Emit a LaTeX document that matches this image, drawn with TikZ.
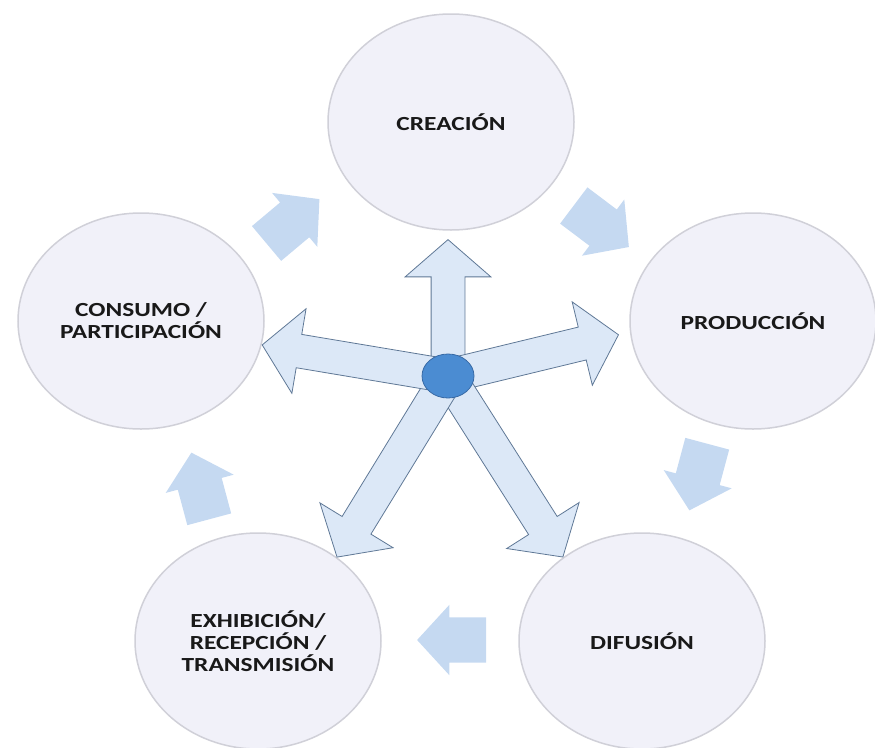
\documentclass[tikz,border=0pt]{standalone}
\usepackage{fontspec}
\newfontfamily\circfont{Carlito}[FakeStretch=1.27]
\usetikzlibrary{shapes.geometric,shapes.arrows}
\definecolor{lav}{RGB}{241,241,249}
\definecolor{rim}{RGB}{208,208,216}
\definecolor{pale}{RGB}{220,232,247}
\definecolor{edge}{RGB}{95,120,150}
\definecolor{soft}{RGB}{197,217,241}
\definecolor{dot}{RGB}{75,140,210}
\definecolor{dotedge}{RGB}{55,105,165}
\tikzset{
	stage/.style={ellipse,draw=rim,line width=1.5pt,fill=lav,minimum width=246pt,minimum height=216pt,inner sep=0,align=center,text=black!90,font=\circfont\bfseries\fontsize{20}{22}\selectfont},
	turn/.style={single arrow,fill=soft,inner xsep=0,inner ysep=22.5pt,minimum width=70pt,minimum height=69pt,single arrow head extend=12.5pt,single arrow tip angle=95},
	spoke/.style={single arrow,draw=edge,line width=0.8pt,fill=pale,inner xsep=0,inner ysep=16.5pt,minimum width=85pt,single arrow head extend=26pt,single arrow tip angle=98,anchor=tail}
}

\begin{document}
\begin{tikzpicture}[x=1pt,y=-1pt]
	\useasboundingbox (0,0) rectangle (875,747);
	\node[stage] (crea) at (451,122) {CREACIÓN};
	\node[stage] (prod) at (753,321) {PRODUCCIÓN};
	\node[stage] (difu) at (642,641) {DIFUSIÓN};
	\node[stage] (exhi) at (258,641) {EXHIBICIÓN/\\RECEPCIÓN /\\TRANSMISIÓN};
	\node[stage] (cons) at (141,321) {CONSUMO /\\PARTICIPACIÓN};
	\node[turn,rotate=40] (t1) at (285,228) {};
	\node[turn,rotate=-37] (t2) at (593,220) {};
	\node[turn,rotate=-105] (t3) at (701,467) {};
	\node[turn,rotate=180] (t4) at (462,640) {};
	\node[turn,rotate=105] (t5) at (203,496) {};
	\coordinate (mid) at (448,376);
	\node[spoke,minimum height=136pt,rotate=90] (s1) at (mid) {};
	\node[spoke,minimum height=175pt,rotate=13.6] (s2) at (mid) {};
	\node[spoke,minimum height=214pt,rotate=-57.6] (s3) at (mid) {};
	\node[spoke,minimum height=212pt,rotate=-121.5] (s4) at (mid) {};
	\node[spoke,minimum height=188pt,rotate=170.5] (s5) at (mid) {};
	\node[ellipse,draw=dotedge,line width=0.8pt,fill=dot,minimum width=52pt,minimum height=44pt,inner sep=0] (hub) at (mid) {};
\end{tikzpicture}
\end{document}
